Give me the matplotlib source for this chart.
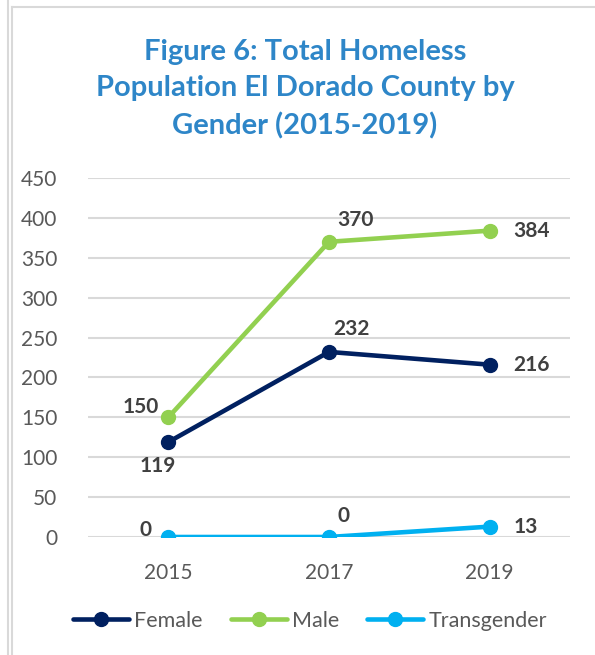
import matplotlib
matplotlib.use("Agg")
import matplotlib.pyplot as plt
from matplotlib.lines import Line2D

plt.rcParams['font.family'] = ['Lato', 'DejaVu Sans']

years = ["2015", "2017", "2019"]
female = [119, 232, 216]
male = [150, 370, 384]
transgender = [0, 0, 13]
series_names = ["Female", "Male", "Transgender"]
y_ticks = [0, 50, 100, 150, 200, 250, 300, 350, 400, 450]

colors = ["#002060", "#92D050", "#00B0F0"]
# label offsets (pixels) per point of each series
offsets = [
    [(-11, -24), (22, 23), (24, 0)],
    [(-28, 10), (26, 22), (24, 0)],
    [(-23, 7), (14, 21), (24, 0)],
]
aligns = [
    ["center", "center", "left"],
    ["center", "center", "left"],
    ["center", "center", "left"],
]

W, H = 595, 655
fig = plt.figure(figsize=(W / 100, H / 100), dpi=100)
ax = fig.add_axes([88 / W, 1 - 537 / H, (570 - 88) / W, (537 - 178) / H])

x = list(range(len(years)))
for vals, name, c, offs, als in zip([female, male, transgender], series_names,
                                    colors, offsets, aligns):
    ax.plot(x, vals, color=c, lw=3.3, marker="o", ms=10, label=name,
            solid_capstyle="round", zorder=3)
    for xi, v, (dx, dy), ha in zip(x, vals, offs, als):
        ax.annotate(str(v), (xi, v), xytext=(dx, dy), textcoords="offset pixels",
                    ha=ha, va="center", fontsize=15, fontweight="bold",
                    color="#404040", zorder=4)

ax.set_xlim(-0.5, len(years) - 0.5)
ax.set_ylim(0, 450)
ax.set_yticks(y_ticks)
ax.set_xticks(x)
ax.set_xticklabels(years)
ax.tick_params(length=0, labelsize=15, labelcolor="#595959")
ax.tick_params(axis="y", pad=22)
ax.tick_params(axis="x", pad=19)
ax.grid(axis="y", color="#D9D9D9", lw=1.5)
ax.set_axisbelow(True)
for s in ax.spines.values():
    s.set_visible(False)

fig.text(305 / W, 1 - 89 / H,
         "Figure 6: Total Homeless\nPopulation El Dorado County by\nGender (2015-2019)",
         ha="center", va="center", fontsize=21, fontweight="bold",
         color="#2E86C8", linespacing=1.5)

leg = fig.legend(loc="center", bbox_to_anchor=(310 / W, 1 - 621 / H), ncol=3,
                 frameon=False, fontsize=15.5, handlelength=2.6, handletextpad=0.25,
                 columnspacing=1.3, labelcolor="#595959")

# outer frame lines
gray = "#D9D9D9"
fig.add_artist(Line2D([7.5 / W, 7.5 / W], [0, 1], color=gray, lw=1.5, transform=fig.transFigure))
fig.add_artist(Line2D([11.5 / W, 11.5 / W], [0, 1 - 7 / H], color=gray, lw=1.5, transform=fig.transFigure))
fig.add_artist(Line2D([11.5 / W, 1], [1 - 7 / H, 1 - 7 / H], color=gray, lw=1.5, transform=fig.transFigure))

fig.savefig("out.png", dpi=100)
